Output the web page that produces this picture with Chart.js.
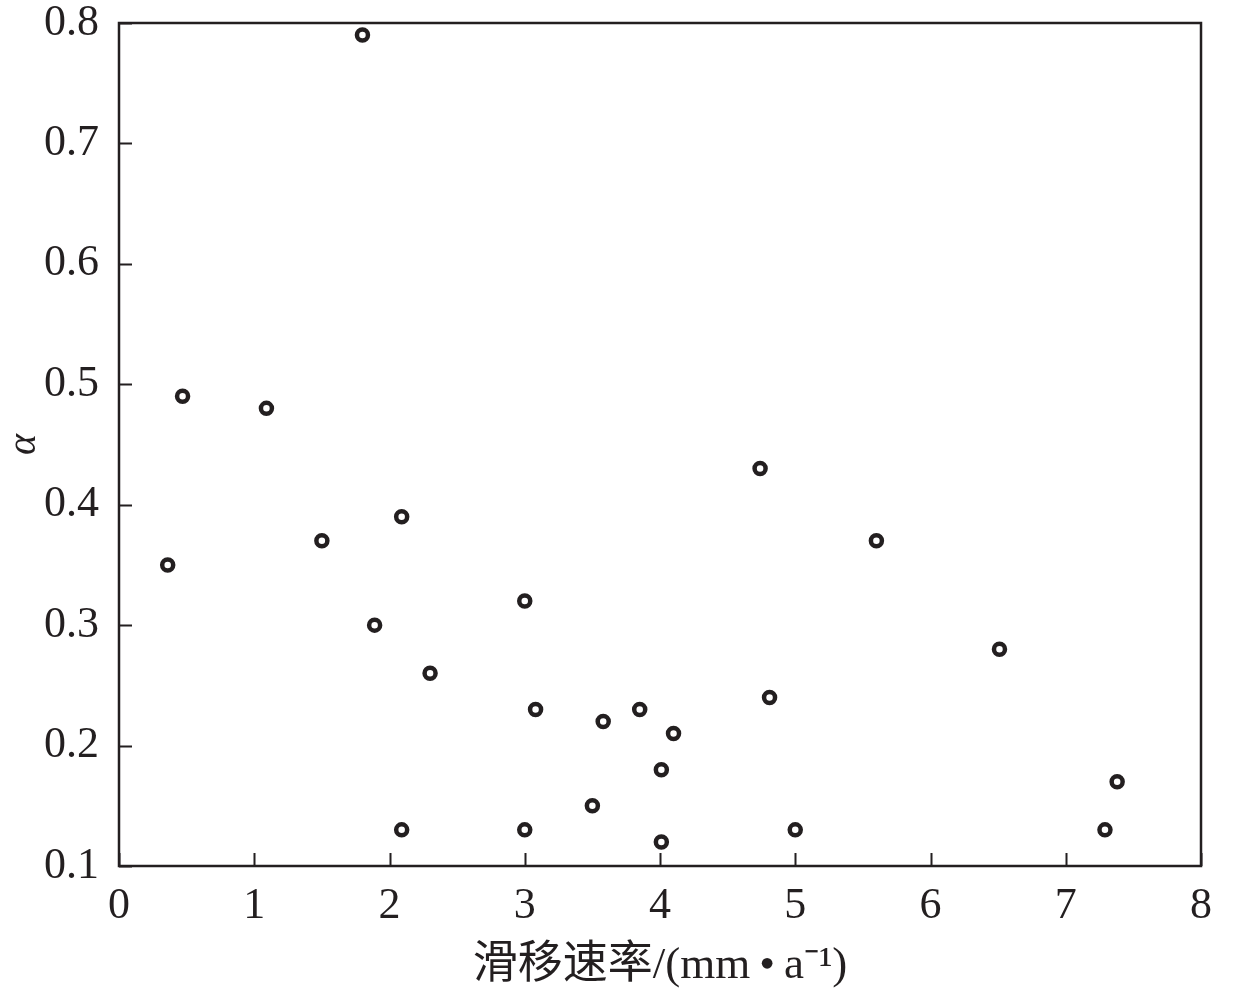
<!DOCTYPE html>
<html>
<head>
<meta charset="utf-8">
<script src="https://cdn.jsdelivr.net/npm/chart.js@4.4.0/dist/chart.umd.min.js"></script>
<style>
  html, body { margin: 0; padding: 0; background: #fff; }
  #wrap { width: 1240px; height: 997px; }
</style>
</head>
<body>
<div id="wrap"><canvas id="mycanvas" width="1240" height="997"></canvas></div>
<script>
// slip rate (mm/a) and alpha values
var slipRate = [0.36, 0.47, 1.09, 1.50, 1.80, 1.89, 2.09, 2.09, 2.30, 3.00, 3.00, 3.08, 3.50,
                3.58, 3.85, 4.01, 4.01, 4.10, 4.74, 4.81, 5.00, 5.60, 6.51, 7.29, 7.38];
var alpha    = [0.35, 0.49, 0.48, 0.37, 0.79, 0.30, 0.39, 0.13, 0.26, 0.32, 0.13, 0.23, 0.15,
                0.22, 0.23, 0.18, 0.12, 0.21, 0.43, 0.24, 0.13, 0.37, 0.28, 0.13, 0.17];
var xTicks = [0, 1, 2, 3, 4, 5, 6, 7, 8];
var yTicks = [0.1, 0.2, 0.3, 0.4, 0.5, 0.6, 0.7, 0.8];

var points = [];
for (var i in slipRate) {
	points.push({x: slipRate[i], y: alpha[i]});
}

var serif = "'Liberation Serif', 'Times New Roman', 'Noto Sans CJK SC', serif";

// frame box + inward ticks
var framePlugin = {
	id: 'frame',
	afterDraw: function(chart) {
		var c = chart.ctx, a = chart.chartArea;
		var xs = chart.scales.x, ys = chart.scales.y;
		c.save();
		c.strokeStyle = '#231f20';
		c.lineWidth = 2.5;
		c.strokeRect(a.left, a.top, a.right - a.left, a.bottom - a.top);
		c.lineWidth = 2;
		c.beginPath();
		for (var i in xTicks) {
			var px = Math.round(xs.getPixelForValue(xTicks[i])) + 0.5;
			c.moveTo(px, a.bottom);
			c.lineTo(px, a.bottom - 13);
		}
		for (var j in yTicks) {
			var py = Math.round(ys.getPixelForValue(yTicks[j])) + 0.5;
			c.moveTo(a.left, py);
			c.lineTo(a.left + 13, py);
		}
		c.stroke();
		c.restore();
	}
};

var ctx = document.getElementById('mycanvas');
var chart = new Chart(ctx, {
	type: 'scatter',
	data: {
		datasets: [{
			label: 'alpha',
			data: points,
			pointStyle: 'circle',
			pointRadius: 5.5,
			pointBorderWidth: 4.5,
			pointBackgroundColor: '#fff',
			pointBorderColor: '#231f20',
			pointHoverRadius: 5.5
		}]
	},
	options: {
		responsive: false,
		animation: false,
		events: [],
		layout: { padding: { top: 23, right: 39, left: 0, bottom: 0 } },
		plugins: { legend: { display: false }, tooltip: { enabled: false } },
		scales: {
			x: {
				type: 'linear',
				min: 0, max: 8,
				afterBuildTicks: function(s) { s.ticks = xTicks.map(function(v){ return {value: v}; }); },
				afterFit: function(s) { s.height = 131; s.paddingLeft = 0; s.paddingRight = 0; },
				grid: { display: false, drawTicks: false },
				border: { display: false },
				ticks: { color: '#231f20', padding: 14, font: { family: serif, size: 44 } },
				title: {
					display: true,
					text: '滑移速率/(mm\u2009•\u2009a⁻¹)',
					color: '#231f20',
					padding: { top: 0 },
					font: { family: serif, size: 45 }
				}
			},
			y: {
				type: 'linear',
				min: 0.1, max: 0.8,
				afterBuildTicks: function(s) { s.ticks = yTicks.map(function(v){ return {value: v}; }); },
				afterFit: function(s) { s.width = 119; s.paddingTop = 0; s.paddingBottom = 0; },
				grid: { display: false, drawTicks: false },
				border: { display: false },
				ticks: {
					color: '#231f20', padding: 20,
					font: { family: serif, size: 44 },
					callback: function(v) { return v.toFixed(1); }
				},
				title: {
					display: true,
					text: 'α',
					color: '#231f20',
					padding: { bottom: 0, top: 0 },
					font: { family: serif, size: 40, style: 'italic' }
				}
			}
		}
	},
	plugins: [framePlugin]
});
</script>
</body>
</html>
